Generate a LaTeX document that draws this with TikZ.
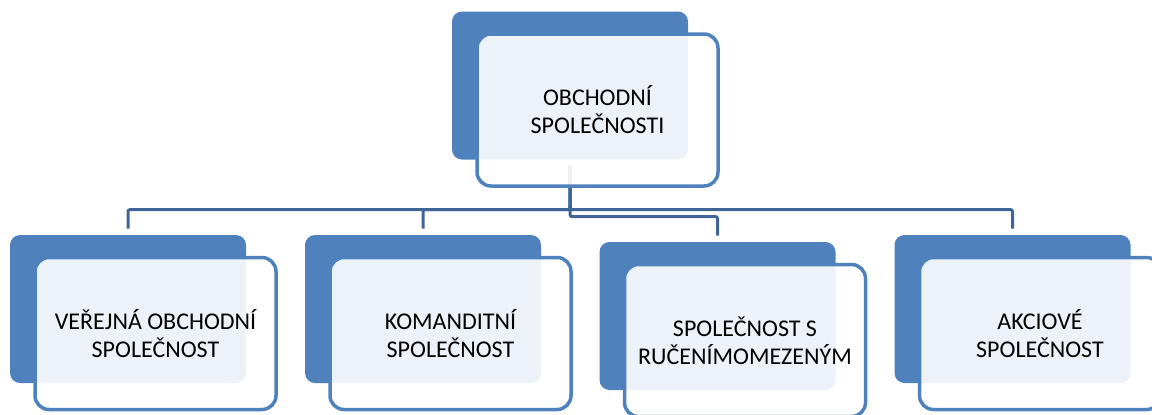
\documentclass[tikz,border=0pt]{standalone}
\usepackage{fontspec}
\setmainfont{Carlito}

\definecolor{boxblue}{RGB}{79,129,189}
\definecolor{linkblue}{RGB}{63,101,152}

\begin{document}
\begin{tikzpicture}[x=0.5pt, y=-0.5pt,
    back/.style={rectangle, rounded corners=5pt, fill=boxblue, draw=none,
        minimum width=118pt, minimum height=74pt, inner sep=0pt},
    front/.style={rectangle, rounded corners=7pt, fill=white, fill opacity=0.9,
        text opacity=1, draw=boxblue, draw opacity=1, line width=1.75pt,
        minimum width=120.5pt, minimum height=76pt, inner sep=0pt,
        align=center, font=\fontsize{12}{14}\selectfont},
    link/.style={draw=linkblue, line width=1.5pt, rounded corners=1pt}]
    \useasboundingbox (0,0) rectangle (1152,414);
    % blue cards behind
    \node[back] (parentbg) at (570,85.5) {};
    \node[back] (vosbg) at (128,309) {};
    \node[back] (ksbg) at (423,309) {};
    \node[back] (srobg) at (717.5,316) {};
    \node[back] (asbg) at (1012.5,309) {};
    % links, under the white cards
    \draw[link] ([yshift=-3pt]parentbg.south) |- ([yshift=12.5pt]vosbg.north) -- ([yshift=3pt]vosbg.north);
    \draw[link] ([yshift=-3pt]parentbg.south) |- ([yshift=12.5pt]ksbg.north) -- ([yshift=3pt]ksbg.north);
    \draw[link] ([yshift=-3pt]parentbg.south) |- ([yshift=12.5pt]srobg.north) -- ([yshift=3pt]srobg.north);
    \draw[link] ([yshift=-3pt]parentbg.south) |- ([yshift=12.5pt]asbg.north) -- ([yshift=3pt]asbg.north);
    % white cards with the text
    \node[front] (parent) at ([shift={(27.5,24.5)}]parentbg.center) {OBCHODNÍ\\SPOLEČNOSTI};
    \node[front] (vos) at ([shift={(27.5,24.5)}]vosbg.center) {VEŘEJNÁ OBCHODNÍ\\SPOLEČNOST};
    \node[front] (ks) at ([shift={(27.5,24.5)}]ksbg.center) {KOMANDITNÍ\\SPOLEČNOST};
    \node[front] (sro) at ([shift={(27.5,24.5)}]srobg.center) {SPOLEČNOST S\\RUČENÍMOMEZENÝM};
    \node[front] (as) at ([shift={(27.5,24.5)}]asbg.center) {AKCIOVÉ\\SPOLEČNOST};
\end{tikzpicture}
\end{document}
